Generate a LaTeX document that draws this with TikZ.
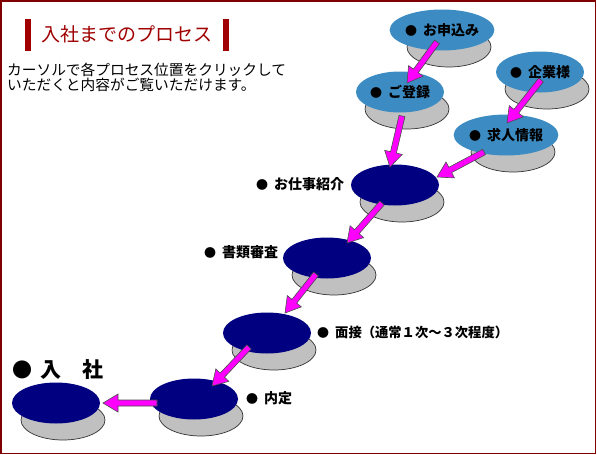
\documentclass[tikz,border=0pt]{standalone}
\usepackage{fontspec}
\newfontfamily\jp{Noto Sans CJK JP}
\usetikzlibrary{shapes.geometric,calc}
\definecolor{framered}{RGB}{128,0,0}
\definecolor{titlered}{RGB}{160,0,0}
\definecolor{lblue}{RGB}{60,140,195}
\definecolor{navyc}{RGB}{0,0,128}
\definecolor{shadowg}{RGB}{192,192,192}
\definecolor{magentac}{RGB}{255,0,255}
\newcommand\bul{{\fontsize{12}{12}\selectfont ●}\hspace{6pt}}
\tikzset{
  topell/.style={ellipse, inner sep=0pt, minimum width=88pt, minimum height=41pt},
  blueell/.style={topell, fill=lblue, font=\jp\bfseries\fontsize{14}{14}\selectfont},
  navyell/.style={topell, fill=navyc},
  shadowell/.style={ellipse, inner sep=0pt, minimum width=84pt, minimum height=40pt, fill=shadowg, draw=black!80, line width=0.7pt},
  lbl/.style={anchor=west, inner sep=0pt, font=\jp\bfseries\fontsize{14}{14}\selectfont},
  barrow/.style={fill=magentac, draw=black!70, line width=0.6pt, line join=miter},
  titlebar/.style={fill=titlered, draw=none}
}
\newcommand\blockarrow[2]{%
  \draw[barrow] let \p1=($(#2)-(#1)$), \n1={atan2(\y1,\x1)}, \n2={veclen(\x1,\y1)-15pt} in
    ($(#1)+({\n1+90}:3pt)$) -- ($(#1)+(\n1:\n2)+({\n1+90}:3pt)$) -- ($(#1)+(\n1:\n2)+({\n1+90}:9pt)$) -- (#2)
    -- ($(#1)+(\n1:\n2)+({\n1-90}:9pt)$) -- ($(#1)+(\n1:\n2)+({\n1-90}:3pt)$) -- ($(#1)+({\n1-90}:3pt)$) -- cycle;}
\begin{document}
\begin{tikzpicture}[x=1pt,y=-1pt]
\useasboundingbox (0,0) rectangle (597,455);
\fill[white] (0,0) rectangle (597,455);
\draw[framered, line width=1.5pt] (0.75,0.75) rectangle (595.5,453.5);

% title
\fill[titlebar] (25,19) rectangle (31,51);
\fill[titlebar] (223,19) rectangle (229,51);
\node[anchor=west, inner sep=0pt, text=titlered, font=\jp\fontsize{19}{19}\selectfont] (title) at (41,34) {入社までのプロセス};
\node[anchor=north west, inner sep=0pt, align=left, font=\jp\fontsize{14.7}{15}\selectfont] (sub) at (7,63) {カーソルで各プロセス位置をクリックして\\いただくと内容がご覧いただけます。};

% shadows
\node[shadowell] (app-s) at (449,47) {};
\node[shadowell] (reg-s) at (407,109) {};
\node[shadowell] (corp-s) at (547,89) {};
\node[shadowell] (job-s) at (513,152) {};
\node[shadowell] (intro-s) at (402,202) {};
\node[shadowell] (doc-s) at (334,275) {};
\node[shadowell] (intv-s) at (274,350) {};
\node[shadowell] (offer-s) at (201,416) {};
\node[shadowell] (join-s) at (63,420) {};

% top ellipses
\node[blueell] (app) at (442,30) {\bul お申込み};
\node[blueell] (reg) at (400,92) {\bul ご登録};
\node[blueell] (corp) at (540,72) {\bul 企業様};
\node[blueell] (job) at (506,135) {\bul 求人情報};
\node[navyell] (intro) at (395,185) {};
\node[navyell] (doc) at (327,258) {};
\node[navyell] (intv) at (267,333) {};
\node[navyell] (offer) at (194,399) {};
\node[navyell] (join) at (56,403) {};

% outside labels
\node[lbl] (intro-l) at (256,184) {\bul お仕事紹介};
\node[lbl] (doc-l) at (204,252) {\bul 書類審査};
\node[lbl, font=\jp\bfseries\fontsize{13.3}{14}\selectfont] (intv-l) at (317,332) {\bul 面接（通常１次～３次程度）};
\node[lbl] (offer-l) at (246,398) {\bul 内定};
\node[anchor=west, inner sep=0pt, font=\jp\bfseries] (join-l) at (12,370) {{\fontsize{20}{20}\selectfont ●}\hspace{8pt}{\fontsize{21}{21}\selectfont 入　社}};

% arrow end points
\coordinate (a1s) at (437,42); \coordinate (a1e) at (407,83);
\coordinate (a2s) at (402,116); \coordinate (a2e) at (390,167);
\coordinate (a3s) at (541,80); \coordinate (a3e) at (507,123);
\coordinate (a4s) at (484,152); \coordinate (a4e) at (437,177);
\coordinate (a5s) at (382,203); \coordinate (a5e) at (347,243);
\coordinate (a6s) at (316,274); \coordinate (a6e) at (285,313);
\coordinate (a7s) at (249,347); \coordinate (a7e) at (212,386);
\coordinate (a8s) at (157,403); \coordinate (a8e) at (103,403);

\blockarrow{a1s}{a1e}
\blockarrow{a2s}{a2e}
\blockarrow{a3s}{a3e}
\blockarrow{a4s}{a4e}
\blockarrow{a5s}{a5e}
\blockarrow{a6s}{a6e}
\blockarrow{a7s}{a7e}
\blockarrow{a8s}{a8e}
\end{tikzpicture}
\end{document}
